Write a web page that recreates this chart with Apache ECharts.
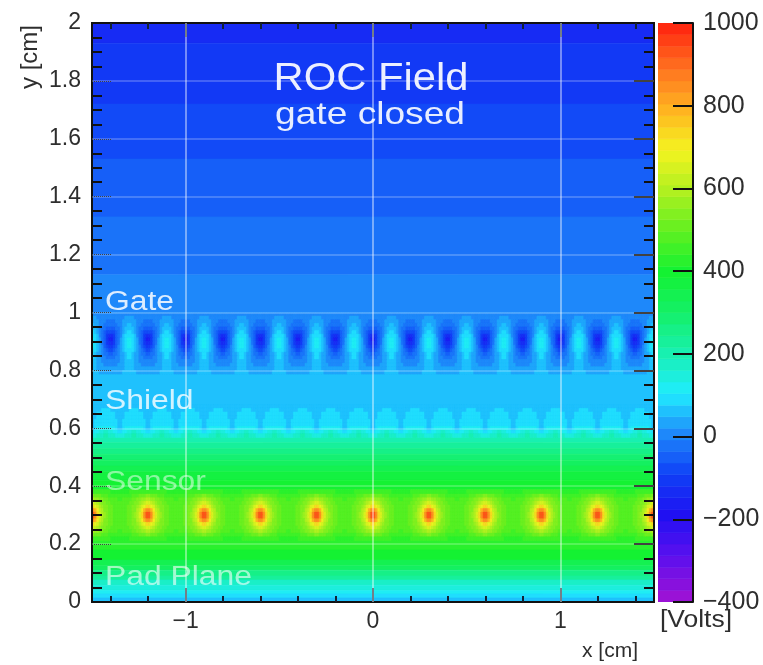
<!DOCTYPE html>
<html>
<head>
<meta charset="utf-8">
<style>html,body{margin:0;padding:0;background:#fff}#c{width:763px;height:665px}</style>
<script src="https://cdn.jsdelivr.net/npm/echarts@6/dist/echarts.min.js"></script>
</head>
<body>
<div id="c"></div>
<script>
const xMajor = [-1, 0, 1];
const xMinor = [-1.4, -1.2, -0.8, -0.6, -0.4, -0.2, 0.2, 0.4, 0.6, 0.8, 1.2, 1.4];
const yGrid = [0.2, 0.4, 0.6, 0.8, 1, 1.2, 1.4, 1.6, 1.8];

const paletteStops = ['#9a12d6', '#5a10ee', '#2010f2', '#1040f6', '#1e88fa', '#20ecff', '#18f0b0', '#14f068',
  '#14f232', '#60f020', '#b0f020', '#f4f420', '#ffb420', '#ff7420', '#ff2a10'];

const colorbarLevels = [-386,-358,-330,-302,-274,-246,-218,-190,-162,-134,-106,-78,-50,-22,6,34,62,90,118,146,
  174,202,230,258,286,314,342,370,398,426,454,482,510,538,566,594,622,650,678,706,734,762,790,818,846,874,902,930,958,986];

// background potential by horizontal band: [top y, bottom y, volts]
const bandTops =    [2, 1.93, 1.72, 1.53, 1.33, 1.13, 1, 0.7875, 0.569, 0.55, 0.53, 0.51, 0.49, 0.47, 0.45, 0.42, 0.3875, 0.2125, 0.18, 0.145, 0.125, 0.11, 0.09, 0.076, 0.058, 0.04, 0.028, 0.014];
const bandBottoms = [1.93, 1.72, 1.53, 1.33, 1.13, 1, 0.7875, 0.569, 0.55, 0.53, 0.51, 0.49, 0.47, 0.45, 0.42, 0.3875, 0.2125, 0.18, 0.145, 0.125, 0.11, 0.09, 0.076, 0.058, 0.04, 0.028, 0.014, 0];
const bandVolts =   [-130, -100, -72, -44, -16, 12, 66, 66, 200, 230, 258, 286, 314, 342, 370, 400, 430, 430, 400, 350, 310, 262, 220, 180, 140, 105, 80, 50];

// gate wires: half of a 0.2 cm period, from y = 1.0 downwards in 0.0125 cm rows
const gateHalf = [
  [14,14,12,12,12,12,12,12],
  [26,24,18,14,10,8,6,4],
  [40,34,24,14,4,-4,-8,-12],
  [55,46,30,14,-4,-16,-24,-30],
  [70,58,36,14,-10,-30,-44,-55],
  [84,70,44,16,-14,-44,-70,-85],
  [98,84,54,20,-12,-54,-96,-122],
  [112,98,64,24,-10,-60,-112,-150],
  [114,100,64,26,-8,-58,-108,-145],
  [106,90,58,26,-4,-46,-84,-105],
  [96,80,50,26,2,-28,-52,-66],
  [86,72,46,26,8,-12,-28,-36],
  [80,66,44,26,12,0,-10,-16],
  [76,62,42,28,18,10,4,2],
  [72,60,44,32,24,20,16,14],
  [70,60,48,38,32,28,26,24],
  [68,62,54,48,44,42,40,38]
];
// shield wires: half of a 0.15 cm period, from y = 0.68125 downwards
const shieldHalf = [
  [68,68,68,68,68,68],
  [68,68,70,76,78,80],
  [66,68,78,84,86,88],
  [62,72,84,90,92,92],
  [60,78,88,94,96,96],
  [58,80,92,100,102,104],
  [62,88,106,118,126,130],
  [84,110,130,146,158,165],
  [140,155,168,178,186,190]
];
// sensor wires: half of a 0.3 cm period, rows by distance from y = 0.3
const sensorHalf = [
  [935,860,740,655,600,560,530,515,505,495,490,485],
  [860,790,700,630,585,550,530,512,502,492,488,484],
  [735,690,650,605,570,545,525,510,498,488,484,480],
  [640,620,595,570,550,530,515,500,490,482,478,475],
  [585,570,555,540,525,510,498,488,480,474,470,468],
  [530,522,514,506,496,486,476,468,462,458,456,454],
  [456,454,452,450,448,446,444,442,440,438,436,434]
];

const STEP = 0.0125;
const cells = [];
bandVolts.forEach((v, i) => cells.push([-1.5, 1.5, bandBottoms[i], bandTops[i], v]));
function tile(halfRow, yTop, yBot) {
  const row = halfRow.concat(halfRow.slice().reverse());
  const n = Math.round(3 / STEP);
  for (let c = 0; c < n; c++) {
    const x0 = -1.5 + c * STEP;
    cells.push([x0, x0 + STEP, yBot, yTop, row[c % row.length]]);
  }
}
gateHalf.forEach((r, i) => tile(r, 1 - i * STEP, 1 - (i + 1) * STEP));
shieldHalf.forEach((r, i) => tile(r, 0.68125 - i * STEP, 0.68125 - (i + 1) * STEP));
sensorHalf.forEach((r, i) => {
  tile(r, 0.3 + (i + 1) * STEP, 0.3 + i * STEP);
  tile(r, 0.3 - i * STEP, 0.3 - (i + 1) * STEP);
});
const barCells = colorbarLevels.map(v => [0, 1, v - 14, v + 14, v]);

function renderCell(params, api) {
  const a = api.coord([api.value(0), api.value(3)]);
  const b = api.coord([api.value(1), api.value(2)]);
  const col = api.visual('color');
  return { type: 'rect', shape: { x: a[0], y: a[1], width: b[0] - a[0], height: b[1] - a[1] },
    style: { fill: col, stroke: col, lineWidth: 0.6 } };
}

const FONT = 'Liberation Sans';
const INK = '#2e2e2e';
const black = { color: '#111', width: 2 };
const labelStyle = { color: INK, fontFamily: FONT, fontSize: 23 };

function xAxisOf(pos, values, len, withLabel) {
  return {
    type: 'value', gridIndex: 0, min: -1.5, max: 1.5, position: pos, z: 4,
    axisLine: { show: true, onZero: false, lineStyle: black },
    axisTick: { show: true, inside: true, length: len, lineStyle: { color: '#123', width: 2 }, customValues: values },
    axisLabel: withLabel ? Object.assign({ show: true, customValues: values, margin: 8,
      formatter: v => String(v).replace('-', '\u2212') }, labelStyle) : { show: false },
    splitLine: { show: false }
  };
}
const mainX0 = xAxisOf('bottom', xMajor, 14, true);
mainX0.name = 'x [cm]';
mainX0.nameLocation = 'end';
mainX0.nameGap = -16;
mainX0.nameTextStyle = { color: INK, fontFamily: FONT, fontSize: 21, align: 'right', verticalAlign: 'top', padding: [39, 0, 0, 0] };

function yAxisOf(pos, withLabel, majorType) {
  return {
    type: 'value', gridIndex: 0, min: 0, max: 2, interval: 0.2, position: pos, z: 4,
    axisLine: { show: true, onZero: false, lineStyle: black },
    axisTick: { show: true, inside: true, length: 20, lineStyle: { color: '#111', width: majorType === 'solid' ? 2 : 1, type: majorType } },
    minorTick: { show: true, splitNumber: 4, length: 10, lineStyle: { color: '#111', width: 2 } },
    axisLabel: withLabel ? Object.assign({ show: true, margin: 11, showMinLabel: true, showMaxLabel: true }, labelStyle) : { show: false },
    splitLine: { show: false }
  };
}
const mainY0 = yAxisOf('left', true, 'dotted');
mainY0.name = 'y [cm]';
mainY0.nameLocation = 'end';
mainY0.nameRotate = 90;
mainY0.nameGap = -2;
mainY0.nameTextStyle = { color: INK, fontFamily: FONT, fontSize: 24, align: 'right', verticalAlign: 'bottom', padding: [0, 0, 50, 0] };

const vLine = { color: 'rgba(255,255,255,0.42)', width: 2, type: 'solid' };
const hLine = { color: 'rgba(255,255,255,0.28)', width: 1.5, type: 'solid' };
const option = {
  animation: false,
  backgroundColor: '#fff',
  grid: [
    { left: 92, right: 109, top: 23, bottom: 63, containLabel: false },
    { left: 658, right: 70, top: 23, bottom: 63, containLabel: false }
  ],
  xAxis: [
    mainX0,
    xAxisOf('bottom', xMinor, 6, false),
    xAxisOf('top', xMajor, 14, false),
    xAxisOf('top', xMinor, 6, false),
    { type: 'value', gridIndex: 1, min: 0, max: 1, show: false }
  ],
  yAxis: [
    mainY0,
    yAxisOf('right', false, 'solid'),
    {
      type: 'value', gridIndex: 1, min: -400, max: 1000, interval: 200, position: 'right', z: 4,
      axisLine: { show: true, onZero: false, lineStyle: black },
      axisTick: { show: true, inside: true, length: 20, lineStyle: { color: '#111', width: 2 } },
      axisLabel: { margin: 10, showMinLabel: true, showMaxLabel: true, color: INK, fontFamily: FONT, fontSize: 25,
        formatter: v => String(v).replace('-', '\u2212') },
      splitLine: { show: false }
    }
  ],
  visualMap: {
    type: 'piecewise', show: false, min: -400, max: 1000, splitNumber: 50, dimension: 4, seriesIndex: [0, 1],
    inRange: { color: paletteStops }
  },
  series: [
    {
      type: 'custom', xAxisIndex: 0, yAxisIndex: 0, coordinateSystem: 'cartesian2d', data: cells,
      encode: { x: [0, 1], y: [2, 3] }, renderItem: renderCell, silent: true, progressive: 0, clip: true,
      markLine: {
        silent: true, symbol: 'none', label: { show: false }, animation: false,
        data: xMajor.map(v => ({ xAxis: v, lineStyle: vLine })).concat(yGrid.map(v => ({ yAxis: v, lineStyle: hLine })))
      }
    },
    {
      type: 'custom', xAxisIndex: 4, yAxisIndex: 2, coordinateSystem: 'cartesian2d', data: barCells,
      encode: { x: [0, 1], y: [2, 3] }, renderItem: renderCell, silent: true, progressive: 0, clip: true
    }
  ],
  graphic: [
    { type: 'text', z: 20, x: 371, y: 79, scaleX: 1.07, style: { text: 'ROC Field', fill: 'rgba(255,255,255,0.92)', font: '39px "Liberation Sans"', textAlign: 'center', textVerticalAlign: 'middle' } },
    { type: 'text', z: 20, x: 370, y: 115, scaleX: 1.16, style: { text: 'gate closed', fill: 'rgba(255,255,255,0.9)', font: '32px "Liberation Sans"', textAlign: 'center', textVerticalAlign: 'middle' } },
    { type: 'text', z: 20, x: 105, y: 303, scaleX: 1.18, style: { text: 'Gate', fill: 'rgba(255,255,255,0.85)', font: '27px "Liberation Sans"', textVerticalAlign: 'middle' } },
    { type: 'text', z: 20, x: 105, y: 402, scaleX: 1.18, style: { text: 'Shield', fill: 'rgba(255,255,255,0.8)', font: '27px "Liberation Sans"', textVerticalAlign: 'middle' } },
    { type: 'text', z: 20, x: 105, y: 483, scaleX: 1.18, style: { text: 'Sensor', fill: 'rgba(255,255,255,0.5)', font: '27px "Liberation Sans"', textVerticalAlign: 'middle' } },
    { type: 'text', z: 20, x: 105, y: 578, scaleX: 1.18, style: { text: 'Pad Plane', fill: 'rgba(255,255,255,0.6)', font: '27px "Liberation Sans"', textVerticalAlign: 'middle' } },
    { type: 'text', z: 20, x: 660, y: 621, scaleX: 1.15, style: { text: '[Volts]', fill: INK, font: '23px "Liberation Sans"', textVerticalAlign: 'middle' } }
  ]
};
echarts.init(document.getElementById('c'), null, { renderer: 'canvas' }).setOption(option);
</script>
</body>
</html>
